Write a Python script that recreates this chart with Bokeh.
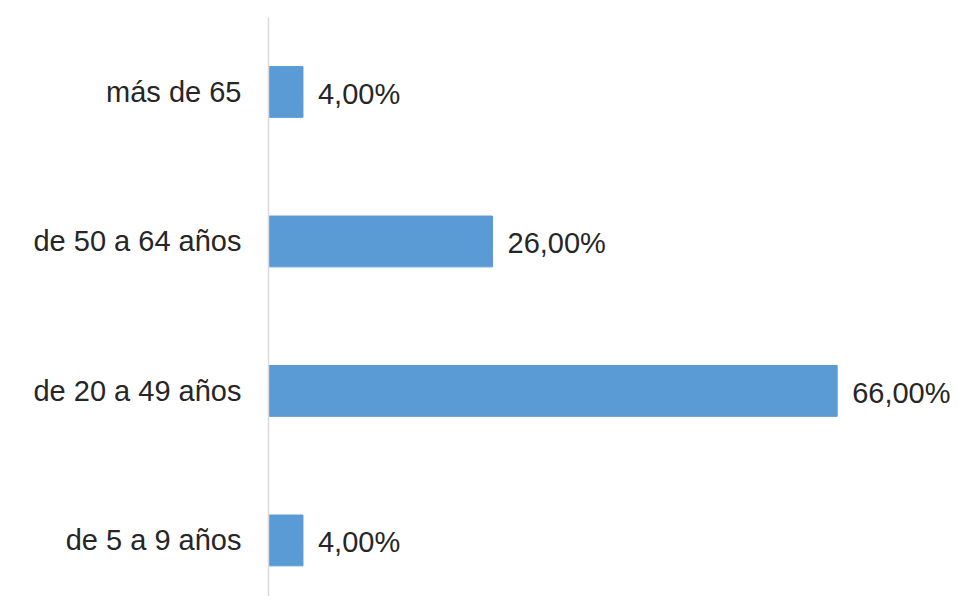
from bokeh.plotting import figure
from bokeh.models import ColumnDataSource, FixedTicker, Range1d
from bokeh.core.properties import value
from bokeh.embed import file_html
from bokeh.resources import INLINE

categories = ["de 5 a 9 años", "de 20 a 49 años", "de 50 a 64 años", "más de 65"]
values = [4, 66, 26, 4]
value_labels = ["4,00%", "66,00%", "26,00%", "4,00%"]

positions = list(range(len(categories)))
src = ColumnDataSource(dict(y=positions, v=values, lab=value_labels))

FONT = "Liberation Sans"

p = figure(width=953, height=596, output_backend="svg", toolbar_location=None,
           x_range=Range1d(0, 79.5), y_range=Range1d(-0.375, 3.498),
           min_border_left=268, min_border_top=17, min_border_right=0, min_border_bottom=0)

p.hbar(y="y", left=0, right="v", height=0.34, color="#5B9BD5", source=src)
p.text(x="v", y="y", text="lab", source=src, x_offset=15, y_offset=2,
       text_align="left", text_baseline="middle", text_font=value(FONT),
       text_font_size="29px", text_color="#262626")

p.xaxis.visible = False
p.grid.visible = False
p.outline_line_color = None

ax = p.yaxis[0]
ax.ticker = FixedTicker(ticks=positions)
ax.major_label_overrides = {i: c for i, c in zip(positions, categories)}
ax.axis_line_color = "#d9d9d9"
ax.axis_line_width = 1.5
ax.major_tick_line_color = None
ax.minor_tick_line_color = None
ax.major_tick_out = 0
ax.major_tick_in = 0
ax.major_label_standoff = 27
ax.major_label_text_font = FONT
ax.major_label_text_font_size = "29px"
ax.major_label_text_color = "#262626"

open("out.html", "w").write(file_html(p, INLINE))
